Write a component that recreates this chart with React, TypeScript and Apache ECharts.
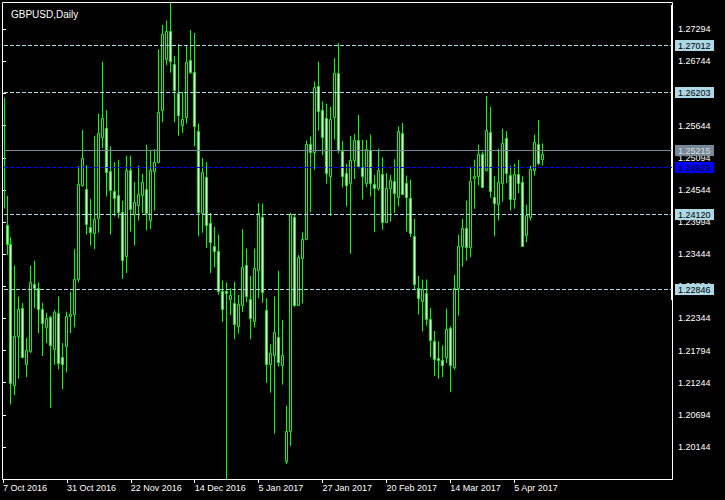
import React, { useEffect, useRef } from 'react';
import * as echarts from 'echarts';

const TITLE = 'GBPUSD,Daily';
const DATE_LABELS = ['7 Oct 2016', '31 Oct 2016', '22 Nov 2016', '14 Dec 2016', '5 Jan 2017', '27 Jan 2017', '20 Feb 2017', '14 Mar 2017', '5 Apr 2017'];
const BARS_PER_LABEL = 16;
const VISIBLE_BARS = 167.5;

const OPEN = [1.2614, 1.2394, 1.2362, 1.2120, 1.2204, 1.2252, 1.2156, 1.2178, 1.2293, 1.2286, 1.2250, 1.2219, 1.2237, 1.2182, 1.2244, 1.2168, 1.2187, 1.2239, 1.2242, 1.2301, 1.2463, 1.2456, 1.2391, 1.2381, 1.2406, 1.2545, 1.2560, 1.2486, 1.2453, 1.2445, 1.2416, 1.2341, 1.2488, 1.2413, 1.2428, 1.2446, 1.2456, 1.2403, 1.2487, 1.2503, 1.2591, 1.2678, 1.2727, 1.2670, 1.2621, 1.2566, 1.2579, 1.2676, 1.2657, 1.2555, 1.2414, 1.2476, 1.2398, 1.2358, 1.2350, 1.2281, 1.2282, 1.2268, 1.2261, 1.2221, 1.2258, 1.2325, 1.2268, 1.2230, 1.2318, 1.2408, 1.2248, 1.2156, 1.2172, 1.2202, 1.2154, 1.1990, 1.2041, 1.2408, 1.2257, 1.2338, 1.2371, 1.2533, 1.2519, 1.2633, 1.2591, 1.2577, 1.2478, 1.2579, 1.2654, 1.2521, 1.2483, 1.2467, 1.2505, 1.2539, 1.2493, 1.2466, 1.2522, 1.2464, 1.2457, 1.2482, 1.2400, 1.2457, 1.2469, 1.2442, 1.2552, 1.2467, 1.2441, 1.2375, 1.2286, 1.2265, 1.2278, 1.2233, 1.2195, 1.2166, 1.2163, 1.2168, 1.2218, 1.2152, 1.2286, 1.2358, 1.2389, 1.2357, 1.2475, 1.2478, 1.2516, 1.2489, 1.2553, 1.2442, 1.2430, 1.2466, 1.2543, 1.2480, 1.2438, 1.2482, 1.2468, 1.2377, 1.2408, 1.2488, 1.2533, 1.2507];
const CLOSE = [1.2423, 1.2362, 1.2124, 1.2204, 1.2250, 1.2168, 1.2181, 1.2296, 1.2286, 1.2250, 1.2227, 1.2235, 1.2189, 1.2245, 1.2158, 1.2156, 1.2239, 1.2242, 1.2302, 1.2464, 1.2509, 1.2396, 1.2382, 1.2404, 1.2552, 1.2577, 1.2485, 1.2455, 1.2441, 1.2416, 1.2335, 1.2488, 1.2422, 1.2434, 1.2447, 1.2468, 1.2415, 1.2488, 1.2503, 1.2587, 1.2721, 1.2727, 1.2675, 1.2626, 1.2583, 1.2575, 1.2673, 1.2656, 1.2563, 1.2416, 1.2485, 1.2394, 1.2366, 1.2349, 1.2282, 1.2250, 1.2278, 1.2275, 1.2224, 1.2259, 1.2323, 1.2273, 1.2235, 1.2321, 1.2415, 1.2280, 1.2156, 1.2175, 1.2211, 1.2160, 1.2171, 1.2041, 1.2413, 1.2257, 1.2339, 1.2371, 1.2533, 1.2519, 1.2630, 1.2589, 1.2545, 1.2483, 1.2576, 1.2654, 1.2523, 1.2479, 1.2462, 1.2506, 1.2539, 1.2495, 1.2478, 1.2524, 1.2466, 1.2457, 1.2488, 1.2400, 1.2457, 1.2472, 1.2449, 1.2556, 1.2448, 1.2442, 1.2381, 1.2293, 1.2269, 1.2285, 1.2233, 1.2197, 1.2165, 1.2163, 1.2154, 1.2216, 1.2154, 1.2286, 1.2359, 1.2389, 1.2357, 1.2470, 1.2479, 1.2516, 1.2459, 1.2557, 1.2453, 1.2432, 1.2468, 1.2534, 1.2483, 1.2439, 1.2482, 1.2467, 1.2359, 1.2412, 1.2490, 1.2536, 1.2500, 1.2516];
const LOW = [1.1840, 1.2343, 1.2087, 1.2103, 1.2131, 1.2167, 1.2134, 1.2175, 1.2252, 1.2209, 1.2170, 1.2192, 1.2081, 1.2155, 1.2147, 1.2113, 1.2142, 1.2209, 1.2219, 1.2296, 1.2460, 1.2378, 1.2359, 1.2353, 1.2381, 1.2526, 1.2443, 1.2378, 1.2409, 1.2406, 1.2302, 1.2312, 1.2383, 1.2359, 1.2402, 1.2415, 1.2385, 1.2387, 1.2419, 1.2500, 1.2570, 1.2668, 1.2655, 1.2570, 1.2547, 1.2552, 1.2568, 1.2653, 1.2529, 1.2375, 1.2381, 1.2355, 1.2312, 1.2322, 1.2275, 1.2228, 1.1955, 1.2240, 1.2199, 1.2208, 1.2245, 1.2262, 1.2199, 1.2219, 1.2269, 1.2261, 1.2124, 1.2107, 1.2037, 1.2152, 1.2121, 1.1985, 1.2016, 1.2254, 1.2256, 1.2260, 1.2368, 1.2416, 1.2489, 1.2556, 1.2514, 1.2465, 1.2410, 1.2541, 1.2517, 1.2459, 1.2426, 1.2345, 1.2473, 1.2491, 1.2438, 1.2459, 1.2443, 1.2382, 1.2453, 1.2386, 1.2400, 1.2400, 1.2415, 1.2426, 1.2446, 1.2383, 1.2374, 1.2284, 1.2241, 1.2212, 1.2222, 1.2168, 1.2136, 1.2131, 1.2134, 1.2158, 1.2108, 1.2146, 1.2239, 1.2323, 1.2333, 1.2339, 1.2422, 1.2462, 1.2459, 1.2486, 1.2441, 1.2375, 1.2402, 1.2434, 1.2466, 1.2419, 1.2422, 1.2449, 1.2358, 1.2365, 1.2402, 1.2479, 1.2497, 1.2496];
const HIGH = [1.2630, 1.2444, 1.2373, 1.2325, 1.2272, 1.2261, 1.2201, 1.2325, 1.2333, 1.2296, 1.2261, 1.2244, 1.2239, 1.2249, 1.2272, 1.2192, 1.2246, 1.2280, 1.2353, 1.2495, 1.2557, 1.2497, 1.2439, 1.2547, 1.2585, 1.2674, 1.2591, 1.2529, 1.2502, 1.2506, 1.2436, 1.2513, 1.2513, 1.2468, 1.2496, 1.2482, 1.2532, 1.2523, 1.2524, 1.2695, 1.2737, 1.2744, 1.2775, 1.2684, 1.2704, 1.2622, 1.2701, 1.2728, 1.2723, 1.2568, 1.2509, 1.2502, 1.2415, 1.2391, 1.2378, 1.2299, 1.2296, 1.2286, 1.2297, 1.2275, 1.2387, 1.2354, 1.2307, 1.2354, 1.2432, 1.2431, 1.2269, 1.2190, 1.2272, 1.2316, 1.2232, 1.2085, 1.2415, 1.2413, 1.2343, 1.2382, 1.2539, 1.2546, 1.2640, 1.2674, 1.2606, 1.2602, 1.2597, 1.2680, 1.2706, 1.2538, 1.2499, 1.2547, 1.2550, 1.2583, 1.2540, 1.2540, 1.2549, 1.2480, 1.2525, 1.2510, 1.2483, 1.2480, 1.2507, 1.2563, 1.2569, 1.2479, 1.2472, 1.2405, 1.2307, 1.2301, 1.2301, 1.2252, 1.2213, 1.2195, 1.2188, 1.2251, 1.2221, 1.2309, 1.2378, 1.2405, 1.2436, 1.2493, 1.2506, 1.2532, 1.2520, 1.2615, 1.2597, 1.2478, 1.2525, 1.2559, 1.2555, 1.2496, 1.2499, 1.2506, 1.2478, 1.2429, 1.2496, 1.2549, 1.2574, 1.2534];

// horizontal price lines: 4 alert levels, bid line, blue level
const LEVEL_PRICES = [1.27012, 1.26203, 1.2412, 1.22846, 1.25215, 1.24929];
const LEVEL_KINDS = ['alert', 'alert', 'alert', 'alert', 'bid', 'blue'];

const AXIS_BASE = 1.19594;
const TICK_STEP = 0.0055;
const PRICE_TOP = 1.27761;

const FONT = 'Liberation Sans';
const LEVEL_STYLES: Record<string, { line: string; dash: number[] | null; bg: string; fg: string }> = {
  alert: { line: '#add8e6', dash: [4, 2], bg: '#add8e6', fg: '#000' },
  bid: { line: '#778899', dash: null, bg: '#778899', fg: '#dcdcdc' },
  blue: { line: '#0000ff', dash: [4, 2], bg: '#0000ff', fg: '#000' },
};
const UP_FILL = '#000';
const DOWN_FILL = '#fff';
const CANDLE_LINE = '#00ff00';

export default function App() {
  const ref = useRef<HTMLDivElement>(null);
  useEffect(() => {
    document.body.style.margin = '0';
    document.body.style.background = '#000';
    const chart = echarts.init(ref.current!, undefined, { renderer: 'svg' });

    const candleData = OPEN.map((o, i) => [i, o - AXIS_BASE, CLOSE[i] - AXIS_BASE, LOW[i] - AXIS_BASE, HIGH[i] - AXIS_BASE]);
    const levelData = LEVEL_PRICES.map((p, k) => [0, p - AXIS_BASE, k]);
    const tickIdx = DATE_LABELS.map((_, k) => k * BARS_PER_LABEL);

    const renderCandle = (params: any, api: any) => {
      const cs = params.coordSys;
      const idx = api.value(0);
      const o = api.value(1);
      const c = api.value(2);
      const pO = api.coord([idx, o]);
      const pC = api.coord([idx, c]);
      const pL = api.coord([idx, api.value(3)]);
      const pH = api.coord([idx, api.value(4)]);
      const col = Math.floor(pO[0] + 0.01);
      const minX = cs.x + 1;
      const top = Math.max(cs.y + 1, pH[1]);
      const bot = Math.min(cs.y + cs.height, pL[1]);
      const bTop = Math.round(Math.min(pO[1], pC[1]));
      const bBot = Math.round(Math.max(pO[1], pC[1]));
      const fill = c >= o ? UP_FILL : DOWN_FILL;
      const children: any[] = [];
      if (col - 1 < minX) {
        children.push({
          type: 'line',
          shape: { x1: col + 1.5, y1: bTop + 0.5, x2: col + 1.5, y2: bBot + 0.5 },
          style: { stroke: CANDLE_LINE, lineWidth: 1 },
        });
        return { type: 'group', children };
      }
      children.push({
        type: 'line',
        shape: { x1: col + 0.5, y1: top, x2: col + 0.5, y2: bot },
        style: { stroke: CANDLE_LINE, lineWidth: 1 },
      });
      children.push({
        type: 'rect',
        shape: { x: col - 0.5, y: bTop + 0.5, width: 2, height: Math.max(bBot - bTop, 0) },
        style: { fill, stroke: CANDLE_LINE, lineWidth: 1 },
      });
      return { type: 'group', children };
    };

    const renderLevel = (params: any, api: any) => {
      const cs = params.coordSys;
      const v = api.value(1);
      const k = api.value(2);
      const st = LEVEL_STYLES[LEVEL_KINDS[k]];
      const y = Math.floor(api.coord([0, v])[1]) + 0.5;
      const right = cs.x + cs.width;
      return {
        type: 'group',
        children: [
          {
            type: 'line',
            shape: { x1: cs.x + 1, y1: y, x2: right, y2: y },
            style: { stroke: st.line, lineWidth: 1, lineDash: st.dash || undefined },
          },
          {
            type: 'rect',
            shape: { x: right + 3, y: y - 5.5, width: 39, height: 11 },
            style: { fill: st.bg },
          },
          {
            type: 'text',
            x: right + 6,
            y: y + 0.5,
            style: {
              text: (v + AXIS_BASE).toFixed(5),
              fill: st.fg,
              font: `9px "${FONT}"`,
              align: 'left',
              verticalAlign: 'middle',
            },
          },
        ],
      };
    };

    chart.setOption({
      animation: false,
      backgroundColor: '#000',
      title: {
        text: TITLE,
        left: 6,
        top: 4,
        textStyle: { color: '#fff', fontSize: 10, fontWeight: 'normal', fontFamily: FONT },
      },
      grid: { left: 2, top: 2, right: 53, bottom: 21, show: false },
      graphic: [
        {
          type: 'rect',
          z: 0,
          silent: true,
          shape: { x: 2.5, y: 2.5, width: 670, height: 477 },
          style: { fill: 'none', stroke: '#fff', lineWidth: 1 },
        },
        {
          type: 'rect',
          z: 0,
          silent: true,
          shape: { x: 671, y: 5, width: 1, height: 295 },
          style: { fill: '#fff' },
        },
      ],
      xAxis: {
        type: 'value',
        min: 0,
        max: VISIBLE_BARS,
        interval: BARS_PER_LABEL,
        axisLine: { show: false },
        axisTick: { show: true, length: 4, customValues: tickIdx, lineStyle: { color: '#fff' } },
        axisLabel: {
          customValues: tickIdx,
          showMinLabel: true,
          showMaxLabel: true,
          formatter: (v: number) => DATE_LABELS[Math.round(v / BARS_PER_LABEL)] ?? '',
          color: '#fff',
          fontFamily: FONT,
          fontSize: 9,
          align: 'left',
          margin: 4,
        },
        splitLine: { show: false },
      },
      yAxis: {
        type: 'value',
        position: 'right',
        min: 0,
        max: PRICE_TOP - AXIS_BASE,
        interval: TICK_STEP,
        axisLine: { show: false },
        axisTick: { show: true, length: 3, lineStyle: { color: '#fff' } },
        axisLabel: {
          color: '#fff',
          fontFamily: FONT,
          fontSize: 9,
          margin: 6,
          showMinLabel: false,
          showMaxLabel: false,
          formatter: (v: number) => (v + AXIS_BASE).toFixed(5),
        },
        splitLine: { show: false },
      },
      series: [
        {
          type: 'custom',
          name: 'GBPUSD',
          data: candleData,
          encode: { x: 0, y: [1, 2, 3, 4] },
          renderItem: renderCandle,
          silent: true,
          z: 3,
        },
        {
          type: 'custom',
          name: 'levels',
          data: levelData,
          encode: { x: 0, y: 1 },
          renderItem: renderLevel,
          silent: true,
          z: 4,
        },
      ],
    });
    return () => chart.dispose();
  }, []);
  return <div ref={ref} style={{ position: 'fixed', left: 0, top: 0, width: 725, height: 500, background: '#000' }} />;
}
